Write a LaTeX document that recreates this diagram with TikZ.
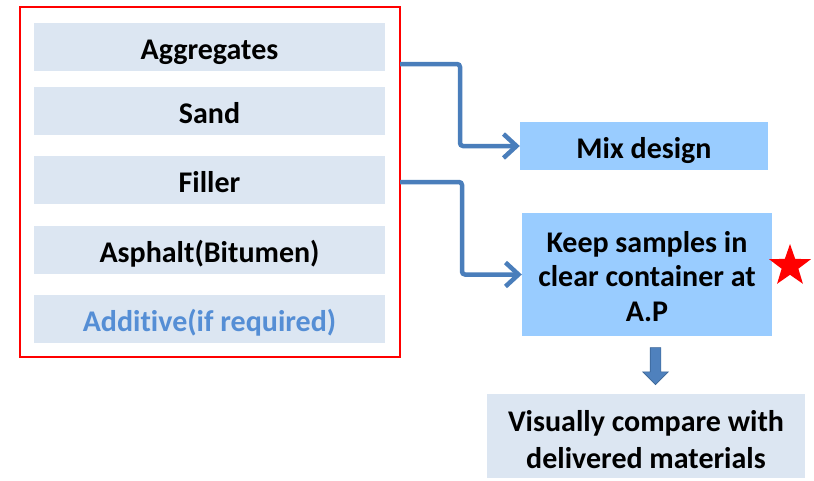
\documentclass[tikz,border=0pt]{standalone}
\usepackage{fontspec}
\setmainfont{Carlito}[Ligatures=NoCommon]
\usetikzlibrary{shapes.geometric, shapes.arrows, arrows.meta, positioning}
\definecolor{listfill}{RGB}{220, 230, 242}
\definecolor{stepfill}{RGB}{153, 204, 255}
\definecolor{linkblue}{RGB}{74, 126, 187}
\definecolor{addblue}{RGB}{85, 142, 213}
\definecolor{downblue}{RGB}{79, 129, 189}

\tikzset{
  item/.style={fill=listfill, minimum width=351pt, minimum height=48pt, inner sep=0pt,
    text height=30pt, text depth=5pt, font=\bfseries\fontsize{30}{34.5}\selectfont},
  stepbox/.style={fill=stepfill, inner sep=0pt, align=center,
    font=\bfseries\fontsize{30}{34.5}\selectfont},
  link/.style={linkblue, line width=4.5pt, rounded corners=3pt,
    -{Straight Barb[length=13pt,width=24pt]}}
}

\begin{document}
\begin{tikzpicture}[x=1pt, y=-1pt]
    \useasboundingbox (0,0) rectangle (814,480);

    % materials list
    \node[draw=red, line width=1.2pt, minimum width=380pt, minimum height=350pt] (frame) at (210,182) {};
    \node[item] (agg) at (209.5,47) {Aggregates};
    \node[item] (sand) at (209.5,111) {Sand};
    \node[item] (filler) at (209.5,180) {Filler};
    \node[item] (asphalt) at (209.5,250) {Asphalt(Bitumen)};
    \node[item, text=addblue] (additive) at (209.5,319) {Additive(if required)};

    % steps
    \node[stepbox, minimum width=248pt, minimum height=48pt, text height=30pt, text depth=5pt] (mix) at (644,146) {Mix design};
    \node[stepbox, minimum width=250pt, minimum height=123pt] (keep) at (647,274.5) {\rule{0pt}{25pt}Keep samples in\\clear container at\\A.P};
    \node[star, star points=5, star point ratio=2.5, fill=red, minimum size=44pt, inner sep=0pt] (mark) at (790,266) {};
    \node[fill=listfill, minimum width=318pt, minimum height=84pt, inner sep=0pt, align=center,
      font=\bfseries\fontsize{30}{37}\selectfont] (visual) at (646,436) {\rule{0pt}{28pt}Visually compare with\\delivered materials};

    % connectors
    \coordinate (aggout) at (400,64);
    \coordinate (fillout) at (400,182);
    \draw[link] (aggout) -- ++(60,0) |- (mix.west);
    \draw[link] (fillout) -- ++(62,0) |- (keep.west);
    \node[single arrow, shape border rotate=270, fill=downblue, draw=linkblue!80!black, line width=0.6pt,
      minimum height=37pt, minimum width=25pt, inner sep=5pt, single arrow head extend=7.5pt] (down) at (655.5,363.5) {};
\end{tikzpicture}
\end{document}
